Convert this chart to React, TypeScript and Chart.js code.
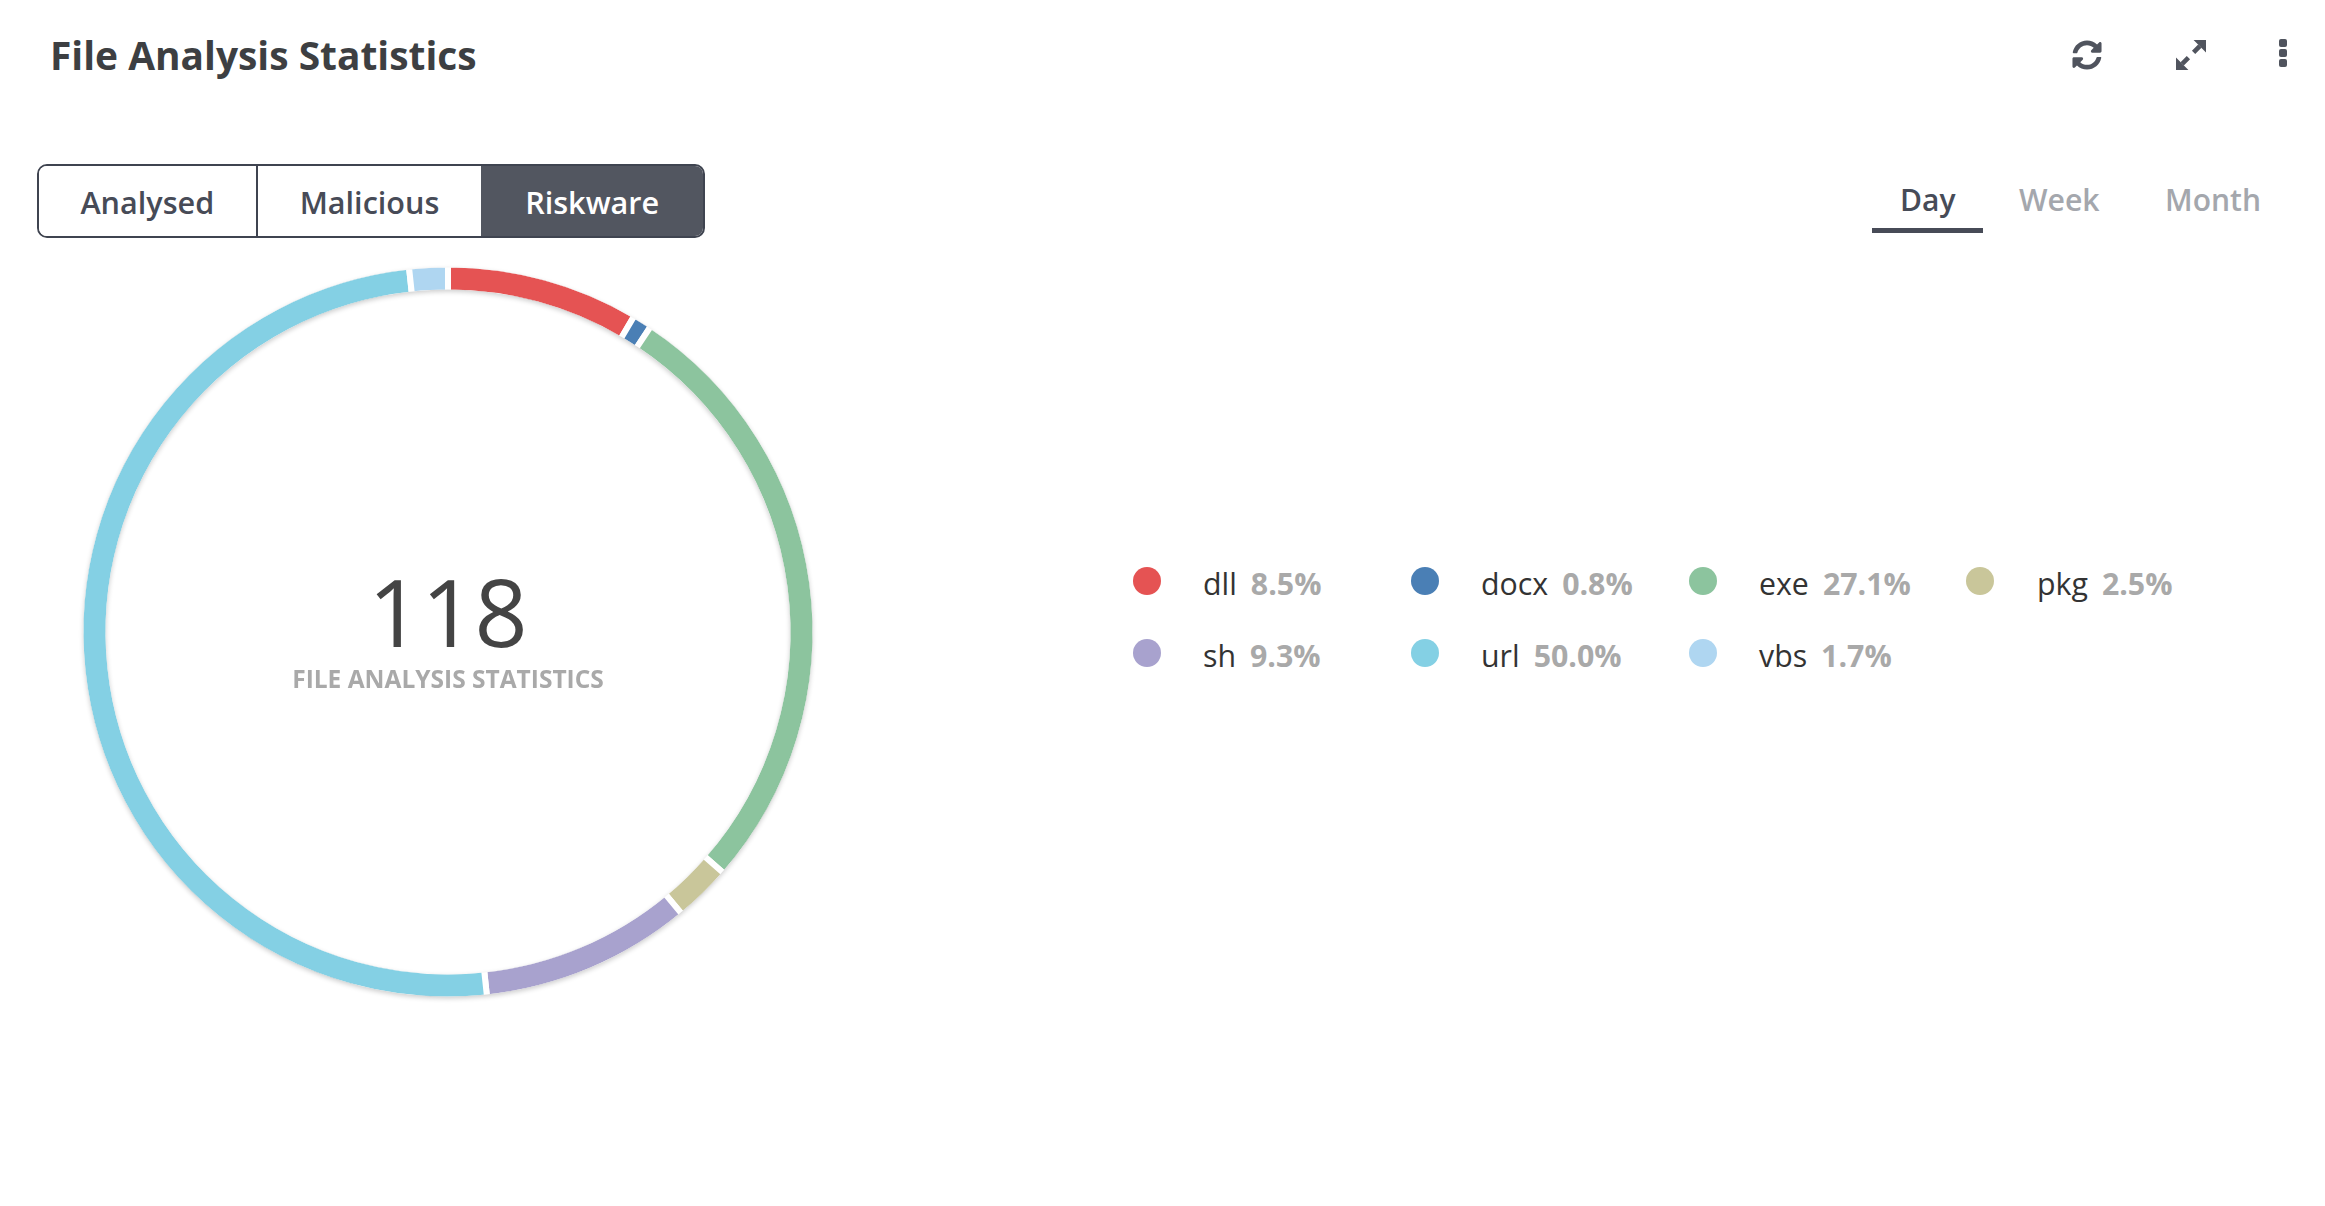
import React, { useEffect, useRef } from "react";
import { Chart, registerables } from "chart.js";

Chart.register(...registerables);

const categories = ["dll", "docx", "exe", "pkg", "sh", "url", "vbs"];
const counts = [10, 1, 32, 3, 11, 59, 2];
const percentLabels = ["8.5%", "0.8%", "27.1%", "2.5%", "9.3%", "50.0%", "1.7%"];
const colors = ["#E55353", "#4A7FB5", "#8CC49E", "#C9C69A", "#A8A2CE", "#84D0E4", "#AFD6F1"];
const totalLabel = "118";
const centerCaption = "FILE ANALYSIS STATISTICS";
const toggleLabels = ["Analysed", "Malicious", "Riskware"];

const FONT = '"Open Sans", sans-serif';
const BORDER = 6;

const abs = (s: React.CSSProperties): React.CSSProperties => ({ position: "absolute", whiteSpace: "nowrap", ...s });

// Soft shadow around the ring, painted only outside the visible band
const shadowPlugin = {
  id: "ringShadow",
  afterDatasetsDraw(chart: any) {
    const arc = chart.getDatasetMeta(0).data[0];
    const { x, y, outerRadius, innerRadius } = arc;
    const ro = outerRadius - BORDER / 2;
    const ri = innerRadius + BORDER / 2;
    const c = chart.ctx;
    const ring = () => {
      c.beginPath();
      c.arc(x, y, ro, 0, Math.PI * 2);
      c.moveTo(x + ri, y);
      c.arc(x, y, ri, 0, Math.PI * 2);
    };
    c.save();
    c.beginPath();
    c.rect(0, 0, chart.width, chart.height);
    c.moveTo(x + ro, y);
    c.arc(x, y, ro, 0, Math.PI * 2);
    c.moveTo(x + ri, y);
    c.arc(x, y, ri, 0, Math.PI * 2);
    c.clip("evenodd");
    c.shadowColor = "rgba(0,0,0,0.2)";
    c.shadowBlur = 5;
    c.shadowOffsetX = 0;
    c.shadowOffsetY = 2;
    c.fillStyle = "#fff";
    ring();
    c.fill("evenodd");
    c.restore();
  },
};

const COL_X = [1133, 1411, 1689, 1966];
const LABEL_X = [1203, 1481, 1759, 2037];
const ROW_Y = [581, 653];

export default function App() {
  const ref = useRef<HTMLCanvasElement | null>(null);
  useEffect(() => {
    document.body.style.margin = "0";
    const chart = new Chart(ref.current as HTMLCanvasElement, {
      type: "doughnut",
      data: {
        labels: categories,
        datasets: [{ data: counts, backgroundColor: colors, borderColor: "#ffffff", borderWidth: BORDER, hoverOffset: 0 } as any],
      },
      options: {
        animation: false,
        responsive: false,
        cutout: "92.38%",
        radius: 367.5,
        layout: { padding: 0 },
        plugins: { legend: { display: false }, tooltip: { enabled: false } },
      } as any,
      plugins: [shadowPlugin],
    });
    return () => chart.destroy();
  }, []);

  return (
    <div style={{ position: "absolute", left: 0, top: 0, width: 2325, height: 1206, overflow: "hidden", background: "#fff", fontFamily: FONT }}>
      <div style={abs({ left: 50, top: 26, fontSize: 38.9, fontWeight: 700, lineHeight: "58px", color: "#3d3f42" })}>File Analysis Statistics</div>

      <svg style={abs({ left: 2072, top: 40 })} width="30" height="30" viewBox="0 0 512 512">
        <path fill="#50545e" d="M370.72 133.28C339.458 104.008 298.888 87.962 255.848 88c-77.458.068-144.328 53.178-162.791 126.85-1.344 5.363-6.122 9.15-11.651 9.15H24.103c-7.498 0-13.194-6.807-11.807-14.176C33.933 94.924 134.813 8 256 8c66.448 0 126.791 26.136 171.315 68.685L463.03 40.97C478.149 25.851 504 36.559 504 57.941V192c0 13.255-10.745 24-24 24H345.941c-21.382 0-32.09-25.851-16.971-40.971l41.75-41.749zM32 296h134.059c21.382 0 32.09 25.851 16.971 40.971l-41.75 41.75c31.262 29.273 71.835 45.319 114.876 45.28 77.418-.07 144.315-53.144 162.787-126.849 1.344-5.363 6.122-9.15 11.651-9.15h57.304c7.498 0 13.194 6.807 11.807 14.176C478.067 417.076 377.187 504 256 504c-66.448 0-126.791-26.136-171.315-68.685L48.97 471.03C33.851 486.149 8 475.441 8 454.059V320c0-13.255 10.745-24 24-24z" />
      </svg>
      <svg style={abs({ left: 2176, top: 40 })} width="30" height="30" viewBox="0 0 29 29">
        <path fill="#50545e" d="M17 0H29V12ZM0 17V29H12Z" />
        <path stroke="#50545e" strokeWidth="4.5" d="M23 6L17 12M6 23L12 17" />
      </svg>
      {[43, 53, 63].map((y) => (
        <div key={y} style={abs({ left: 2279, top: y - 4, width: 8, height: 8, borderRadius: 2, background: "#50545e" })} />
      ))}

      <div style={abs({ left: 37, top: 164, width: 668, height: 74, boxSizing: "border-box", border: "2.5px solid #3f4450", borderRadius: 10, overflow: "hidden", display: "flex", background: "#fff" })}>
        {toggleLabels.map((t, i) => (
          <div
            key={t}
            style={{
              width: [220, 225, 223][i],
              textAlign: "center",
              lineHeight: "73px",
              fontSize: 30.6,
              fontWeight: 600,
              boxSizing: "border-box",
              color: i === 2 ? "#fff" : "#474b57",
              background: i === 2 ? "#525660" : "#fff",
              borderRight: i === 0 ? "2.5px solid #3f4450" : "none",
            }}
          >
            {t}
          </div>
        ))}
      </div>

      <div style={abs({ left: 1900, top: 178, fontSize: 30, lineHeight: "44px", fontWeight: 600, color: "#474b57" })}>Day</div>
      <div style={abs({ left: 2019, top: 178, fontSize: 30.2, lineHeight: "44px", fontWeight: 600, color: "#a4a7ad" })}>Week</div>
      <div style={abs({ left: 2165, top: 178, fontSize: 30, lineHeight: "44px", fontWeight: 600, color: "#a4a7ad" })}>Month</div>
      <div style={abs({ left: 1872, top: 228, width: 111, height: 5, background: "#474b57" })} />

      <canvas ref={ref} width={800} height={800} style={{ position: "absolute", left: 48, top: 232, width: 800, height: 800 }} />

      <div style={abs({ left: 248, width: 400, top: 547, textAlign: "center", fontSize: 93, fontWeight: 400, lineHeight: "128px", color: "#444" })}>{totalLabel}</div>
      <div style={abs({ left: 248, width: 400, top: 662, textAlign: "center", fontSize: 24.5, fontWeight: 700, lineHeight: "34px", color: "#a9a9a9" })}>{centerCaption}</div>

      {categories.map((c, i) => {
        const cx = COL_X[i % 4];
        const cy = ROW_Y[Math.floor(i / 4)];
        return (
          <React.Fragment key={c}>
            <div style={abs({ left: cx, top: cy - 14, width: 28, height: 28, borderRadius: "50%", background: colors[i] })} />
            <div style={abs({ left: LABEL_X[i % 4], top: cy - 19, lineHeight: "44px", fontSize: 30.3, color: "#333", display: "flex", gap: 14 })}>
              <span>{c}</span>
              <span style={{ fontWeight: 700, color: "#a9a9a9" }}>{percentLabels[i]}</span>
            </div>
          </React.Fragment>
        );
      })}
    </div>
  );
}
